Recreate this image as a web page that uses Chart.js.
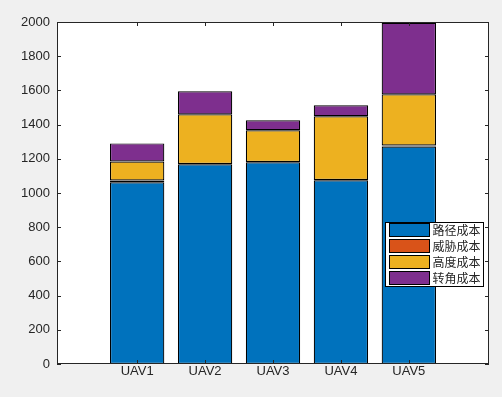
<!DOCTYPE html>
<html>
<head>
<meta charset="utf-8">
<script src="https://cdn.jsdelivr.net/npm/chart.js@4"></script>
<style>
  html, body { margin: 0; padding: 0; background: #f0f0f0; }
  #wrap { width: 502px; height: 397px; }
</style>
</head>
<body>
<div id="wrap"><canvas id="myChart" width="502" height="397"></canvas></div>
<script>
const categories = ["UAV1", "UAV2", "UAV3", "UAV4", "UAV5"];
const seriesNames = ["路径成本", "威胁成本", "高度成本", "转角成本"];
const pathCost = [1063, 1168, 1180, 1074, 1272];
const threatCost = [10, 2, 2, 2, 6];
const heightCost = [111, 290, 185, 373, 299];
const turnCost = [106, 135, 58, 64, 418];
const yTicks = [0, 200, 400, 600, 800, 1000, 1200, 1400, 1600, 1800, 2000];

const colors = ["#0072BD", "#D95319", "#EDB120", "#7E2F8E"];
const axisColor = "#262626";
const font = { family: "'Liberation Sans', Arial, sans-serif", size: 13 };

function toPoints(values) {
  return values.map((v, i) => ({ x: i + 1, y: v }));
}

const data = {
  datasets: [pathCost, threatCost, heightCost, turnCost].map((vals, i) => ({
    label: seriesNames[i],
    data: toPoints(vals),
    backgroundColor: colors[i],
    borderColor: "#000",
    borderWidth: 1.2,
    borderSkipped: false,
    barPercentage: 1,
    categoryPercentage: 0.8,
  })),
};

// white axes area on grey figure
const background = {
  id: "background",
  beforeDraw(chart) {
    const { ctx, chartArea: a } = chart;
    ctx.save();
    ctx.fillStyle = "#f0f0f0";
    ctx.fillRect(0, 0, chart.width, chart.height);
    ctx.fillStyle = "#fff";
    ctx.fillRect(a.left, a.top, a.right - a.left, a.bottom - a.top);
    ctx.restore();
  },
};

// matlab style box with inward ticks, plus legend inside the axes
const boxAndLegend = {
  id: "boxAndLegend",
  afterDatasetsDraw(chart) {
    const { ctx, chartArea: a, scales } = chart;
    ctx.save();
    ctx.strokeStyle = axisColor;
    ctx.lineWidth = 1;
    ctx.strokeRect(a.left + 0.5, a.top + 0.5, a.right - a.left - 1, a.bottom - a.top - 1);
    ctx.beginPath();
    yTicks.forEach((t) => {
      const y = Math.round(scales.y.getPixelForValue(t)) + 0.5;
      ctx.moveTo(a.left, y); ctx.lineTo(a.left + 4, y);
      ctx.moveTo(a.right, y); ctx.lineTo(a.right - 4, y);
    });
    categories.forEach((c, i) => {
      const x = Math.round(scales.x.getPixelForValue(i + 1)) + 0.5;
      ctx.moveTo(x, a.bottom); ctx.lineTo(x, a.bottom - 4);
      ctx.moveTo(x, a.top); ctx.lineTo(x, a.top + 4);
    });
    ctx.stroke();

    // legend
    const lx = 385.5, ly = 222.5, lw = 98, lh = 64;
    ctx.fillStyle = "#fff";
    ctx.fillRect(lx, ly, lw, lh);
    ctx.strokeStyle = "#000";
    ctx.strokeRect(lx, ly, lw, lh);
    ctx.font = "12px 'Noto Sans CJK SC', sans-serif";
    ctx.textBaseline = "middle";
    chart.data.datasets.forEach((ds, i) => {
      const ry = ly + 1 + i * 16;
      ctx.fillStyle = ds.backgroundColor;
      ctx.fillRect(lx + 4, ry, 40, 13);
      ctx.strokeStyle = "#000";
      ctx.strokeRect(lx + 4, ry, 40, 13);
      ctx.fillStyle = axisColor;
      ctx.fillText(ds.label, lx + 47, ry + 7);
    });
    ctx.restore();
  },
};

const config = {
  type: "bar",
  data: data,
  plugins: [background, boxAndLegend],
  options: {
    responsive: false,
    animation: false,
    layout: { padding: { left: 0, top: 22, right: 13, bottom: 0 } },
    plugins: { legend: { display: false }, tooltip: { enabled: false } },
    scales: {
      x: {
        type: "linear",
        stacked: true,
        offset: false,
        min: -0.18,
        max: 6.18,
        grid: { display: false, drawTicks: false, offset: false },
        border: { display: false },
        afterBuildTicks: (s) => { s.ticks = categories.map((c, i) => ({ value: i + 1 })); },
        afterFit: (s) => { s.height = 33; },
        ticks: {
          color: axisColor,
          font: font,
          padding: 0,
          autoSkip: false,
          maxRotation: 0,
          callback: (v) => categories[v - 1] || "",
        },
      },
      y: {
        stacked: true,
        min: 0,
        max: 2000,
        grid: { display: false, drawTicks: false },
        border: { display: false },
        afterBuildTicks: (s) => { s.ticks = yTicks.map((v) => ({ value: v })); },
        afterFit: (s) => { s.width = 57; },
        ticks: { color: axisColor, font: font, padding: 7, callback: (v) => String(v) },
      },
    },
  },
};

const myChart = new Chart(document.getElementById("myChart"), config);
</script>
</body>
</html>
